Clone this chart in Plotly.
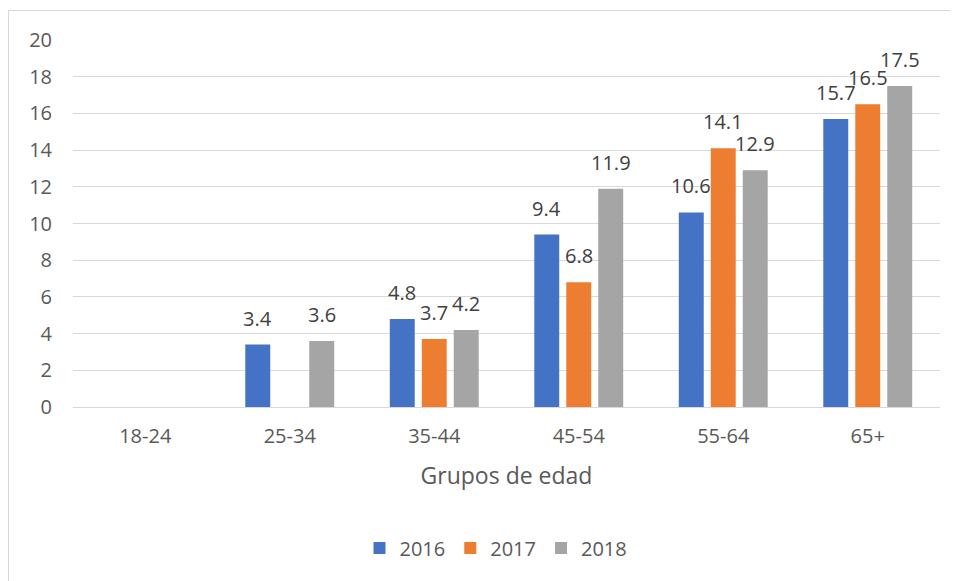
import plotly.graph_objects as go

categories = ["18-24", "25-34", "35-44", "45-54", "55-64", "65+"]
series_names = ["2016", "2017", "2018"]
v2016 = [None, 3.4, 4.8, 9.4, 10.6, 15.7]
v2017 = [None, None, 3.7, 6.8, 14.1, 16.5]
v2018 = [None, 3.6, 4.2, 11.9, 12.9, 17.5]
colors = ["#4472C4", "#ED7D31", "#A5A5A5"]
y_ticks = list(range(0, 21, 2))

FONT = "'Open Sans', 'Noto Sans', sans-serif"

# page is rendered with an 8px body margin -> compensate
OFF = 8
W, H = 958 - OFF, 581 - OFF
ml, mr, mt, mb = 73 - OFF, 18, 40 - OFF, 174
pw, ph = W - ml - mr, H - mt - mb

def px(x):
    return (x - OFF - ml) / pw

def py(y):
    return (H - mb - (y - OFF)) / ph

bargap = 0.336
bargroupgap = 0.22
n = len(series_names)
slot = (1 - bargap) / n

fig = go.Figure()
annotations = []
for k, (name, vals, col) in enumerate(zip(series_names, [v2016, v2017, v2018], colors)):
    fig.add_trace(go.Bar(
        x=categories, y=vals, name=name,
        marker=dict(color=col, line=dict(width=0)),
    ))
    dx = (k - (n - 1) / 2) * slot
    for i, v in enumerate(vals):
        if v is None:
            continue
        annotations.append(dict(
            x=i + dx, y=v, xref="x", yref="y",
            text=f"{v:.1f}", showarrow=False,
            xanchor="center", yanchor="bottom", yshift=11,
            font=dict(size=20, color="#404040", family=FONT),
        ))

fig.update_layout(
    width=W, height=H,
    margin=dict(l=ml, r=mr, t=mt, b=mb, pad=0),
    paper_bgcolor="white", plot_bgcolor="white",
    barmode="group", bargap=bargap, bargroupgap=bargroupgap,
    font=dict(family=FONT, color="#595959", size=20),
    xaxis=dict(
        title=dict(text="Grupos de edad", font=dict(size=23, color="#595959"), standoff=19),
        tickfont=dict(size=20, color="#595959"),
        showline=True, linecolor="#D9D9D9", linewidth=1,
        ticks="", showgrid=False, ticklabelstandoff=11,
    ),
    yaxis=dict(
        range=[0, 20], tickvals=y_ticks, ticktext=[str(t) for t in y_ticks],
        tickfont=dict(size=20, color="#595959"),
        showgrid=True, gridcolor="#D9D9D9", gridwidth=1,
        zeroline=False, showline=False, ticks="", ticklabelstandoff=20,
    ),
    legend=dict(
        orientation="h", x=px(496), xanchor="center", y=py(548), yanchor="middle",
        font=dict(size=20, color="#595959"), itemwidth=30,
        traceorder="normal",
    ),
    annotations=annotations,
    shapes=[
        dict(type="line", xref="paper", yref="paper",
             x0=px(8.5), x1=px(958), y0=py(10.5), y1=py(10.5),
             line=dict(color="#D9D9D9", width=1)),
        dict(type="line", xref="paper", yref="paper",
             x0=px(8.5), x1=px(8.5), y0=py(10.5), y1=py(581),
             line=dict(color="#D9D9D9", width=1)),
    ],
)

fig.write_html("out.html")
